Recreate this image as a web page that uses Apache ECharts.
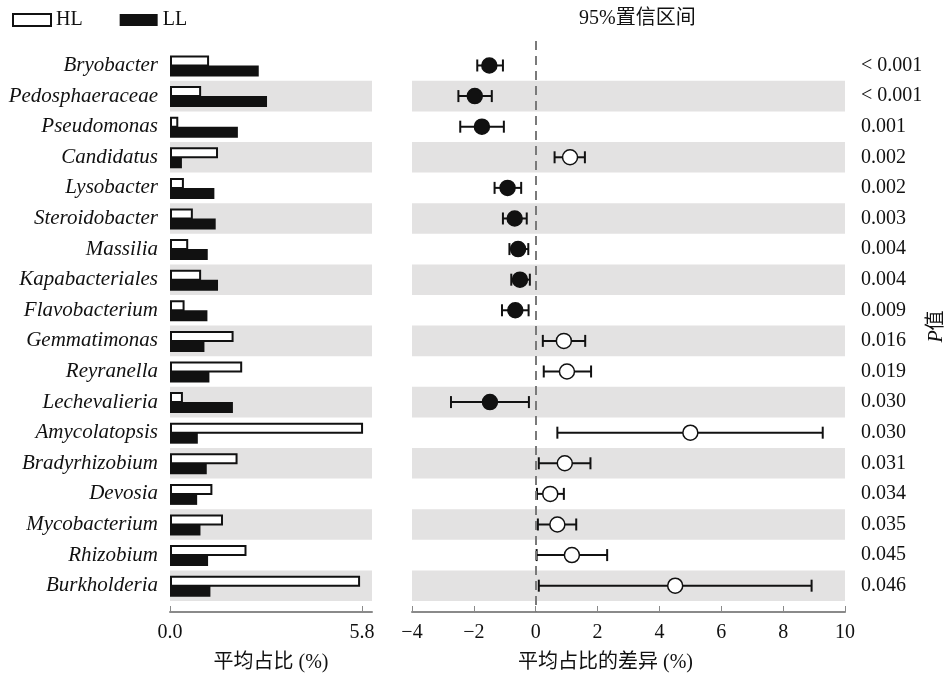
<!DOCTYPE html>
<html><head><meta charset="utf-8">
<script src="https://cdn.jsdelivr.net/npm/echarts@6/dist/echarts.min.js"></script>
<style>html,body{margin:0;padding:0;background:#fff}#c{width:950px;height:678px}</style>
</head><body><div id="c"></div>
<script>
const categories = ['Bryobacter','Pedosphaeraceae','Pseudomonas','Candidatus','Lysobacter','Steroidobacter','Massilia','Kapabacteriales','Flavobacterium','Gemmatimonas','Reyranella','Lechevalieria','Amycolatopsis','Bradyrhizobium','Devosia','Mycobacterium','Rhizobium','Burkholderia'];
const hlValues = [1.18,0.94,0.25,1.45,0.42,0.69,0.55,0.94,0.44,1.92,2.18,0.39,5.83,2.04,1.28,1.60,2.31,5.74];
const llValues = [2.68,2.93,2.05,0.36,1.34,1.38,1.14,1.45,1.13,1.04,1.19,1.90,0.84,1.11,0.82,0.92,1.15,1.22];
const diffValues = [-1.50,-1.97,-1.74,1.11,-0.91,-0.68,-0.57,-0.51,-0.66,0.91,1.01,-1.48,5.00,0.94,0.47,0.70,1.17,4.51];
const ciLow = [-1.89,-2.50,-2.44,0.61,-1.33,-1.06,-0.85,-0.79,-1.09,0.23,0.26,-2.74,0.70,0.10,0.04,0.07,0.03,0.10];
const ciHigh = [-1.06,-1.42,-1.03,1.59,-0.47,-0.29,-0.24,-0.19,-0.23,1.60,1.79,-0.22,9.28,1.77,0.91,1.31,2.31,8.92];
const pValues = ['< 0.001','< 0.001','0.001','0.002','0.002','0.003','0.004','0.004','0.009','0.016','0.019','0.030','0.030','0.031','0.034','0.035','0.045','0.046'];
const leftTicks = [0, 5.8];
const rightTicks = [-4,-2,0,2,4,6,8,10];

const FONT = "'Liberation Serif','Noto Sans CJK SC',serif";
const FS = 20;
const INK = '#111';
const AXIS = '#8a8a8a';
const SHADE = '#e3e2e2';
const rowIdx = categories.map((_, i) => i);
const bands = rowIdx.filter(i => i % 2 === 1).map(i => [{yAxis: i - 0.5}, {yAxis: i + 0.5}]);

const yCommon = {type: 'value', inverse: true, min: -0.8, max: 17.86,
  axisLine: {show: false, onZero: false}, axisTick: {show: false}, splitLine: {show: false}};

function barRender(offsetSign) {
  return function (params, api) {
    const i = api.value(1);
    const p0 = api.coord([0, i]);
    const p1 = api.coord([api.value(0), i]);
    const h = 10;
    const y = offsetSign < 0 ? p0[1] - h : p0[1];
    const hl = offsetSign < 0;
    return {type: 'rect',
      shape: hl ? {x: p0[0] + 1, y: y + 1, width: p1[0] - p0[0] - 2, height: h - 1}
                : {x: p0[0], y: y, width: p1[0] - p0[0], height: h + 1},
      style: hl ? {fill: '#fff', stroke: INK, lineWidth: 2} : {fill: INK}};
  };
}

const option = {
  animation: false,
  backgroundColor: '#fff',
  textStyle: {fontFamily: FONT},
  title: {text: '95%置信区间', left: 574, top: 4,
    textStyle: {fontFamily: FONT, fontSize: FS, fontWeight: 'normal', color: INK}},
  legend: {left: 7, top: 5, itemWidth: 38, itemHeight: 12, itemGap: 37,
    textStyle: {fontFamily: FONT, fontSize: FS, color: INK},
    data: [{name: 'HL', icon: 'rect', itemStyle: {color: '#fff', borderColor: INK, borderWidth: 2}},
           {name: 'LL', icon: 'rect', itemStyle: {color: INK}}]},
  grid: [
    {left: 170, width: 202, top: 41, height: 571},
    {left: 412, width: 433, top: 41, height: 571}
  ],
  xAxis: [
    {gridIndex: 0, type: 'value', min: 0, max: 6.1,
      axisLine: {show: true, onZero: false, lineStyle: {color: AXIS, width: 2}},
      axisTick: {show: true, inside: true, length: 6, customValues: leftTicks, lineStyle: {color: AXIS}},
      axisLabel: {customValues: leftTicks, formatter: v => Number(v).toFixed(1), fontFamily: FONT, fontSize: FS, color: INK, margin: 11},
      splitLine: {show: false},
      name: '平均占比 (%)', nameLocation: 'middle', nameGap: 41,
      nameTextStyle: {fontFamily: FONT, fontSize: FS, color: INK}},
    {gridIndex: 1, type: 'value', min: -4, max: 10, interval: 2,
      axisLine: {show: true, onZero: false, lineStyle: {color: AXIS, width: 2}},
      axisTick: {show: true, inside: true, length: 6, lineStyle: {color: AXIS}},
      axisLabel: {formatter: v => v < 0 ? '\u2212' + (-v) : String(v), fontFamily: FONT, fontSize: FS, color: INK, margin: 11},
      splitLine: {show: false},
      name: '平均占比的差异 (%)', nameLocation: 'middle', nameGap: 41,
      nameTextStyle: {fontFamily: FONT, fontSize: FS, color: INK, padding: [0, 46, 0, 0]}}
  ],
  yAxis: [
    Object.assign({}, yCommon, {gridIndex: 0,
      axisLabel: {customValues: rowIdx, formatter: v => categories[Math.round(v)] || '',
        fontFamily: FONT, fontStyle: 'italic', fontSize: 21, color: INK, margin: 12}}),
    Object.assign({}, yCommon, {gridIndex: 1, axisLabel: {show: false}}),
    Object.assign({}, yCommon, {gridIndex: 1, position: 'right',
      axisLabel: {customValues: rowIdx, formatter: v => pValues[Math.round(v)] || '',
        fontFamily: FONT, fontSize: FS, color: INK, margin: 16, align: 'left'},
      name: '{i|P}值', nameLocation: 'middle', nameGap: 82, nameRotate: 90,
      nameTextStyle: {fontFamily: FONT, fontSize: FS, color: INK,
        rich: {i: {fontFamily: FONT, fontStyle: 'italic', fontSize: FS, color: INK}}}})
  ],
  series: [
    {type: 'line', xAxisIndex: 0, yAxisIndex: 0, data: [], z: 0, silent: true,
      markArea: {silent: true, itemStyle: {color: SHADE}, data: bands}},
    {type: 'line', xAxisIndex: 1, yAxisIndex: 1, data: [], z: 0, silent: true,
      markArea: {silent: true, itemStyle: {color: SHADE}, data: bands}},
    {name: 'HL', type: 'custom', xAxisIndex: 0, yAxisIndex: 0, z: 3,
      itemStyle: {color: '#fff', borderColor: INK, borderWidth: 2},
      encode: {x: 0, y: 1}, renderItem: barRender(-1),
      data: hlValues.map((v, i) => [v, i])},
    {name: 'LL', type: 'custom', xAxisIndex: 0, yAxisIndex: 0, z: 3,
      itemStyle: {color: INK},
      encode: {x: 0, y: 1}, renderItem: barRender(1),
      data: llValues.map((v, i) => [v, i])},
    {type: 'custom', xAxisIndex: 1, yAxisIndex: 1, z: 3, silent: true,
      encode: {x: [0, 1], y: 2},
      renderItem: function (params, api) {
        const i = api.value(2);
        const a = api.coord([api.value(0), i]);
        const b = api.coord([api.value(1), i]);
        const c = 6, st = {stroke: INK, lineWidth: 2};
        return {type: 'group', children: [
          {type: 'line', shape: {x1: a[0], y1: a[1], x2: b[0], y2: b[1]}, style: st},
          {type: 'line', shape: {x1: a[0], y1: a[1] - c, x2: a[0], y2: a[1] + c}, style: st},
          {type: 'line', shape: {x1: b[0], y1: b[1] - c, x2: b[0], y2: b[1] + c}, style: st}
        ]};
      },
      data: ciLow.map((v, i) => [v, ciHigh[i], i]),
      markLine: {silent: true, symbol: 'none', label: {show: false},
        lineStyle: {color: '#7a7a7a', type: [9, 6], width: 2},
        data: [{xAxis: 0}]}},
    {type: 'scatter', xAxisIndex: 1, yAxisIndex: 1, z: 4, symbol: 'circle', symbolSize: 15,
      data: diffValues.map((v, i) => ({value: [v, i],
        itemStyle: {color: v < 0 ? INK : '#fff', borderColor: INK, borderWidth: 1.5, opacity: 1}}))}
  ]
};
const chart = echarts.init(document.getElementById('c'));
chart.setOption(option);
</script>
</body></html>
